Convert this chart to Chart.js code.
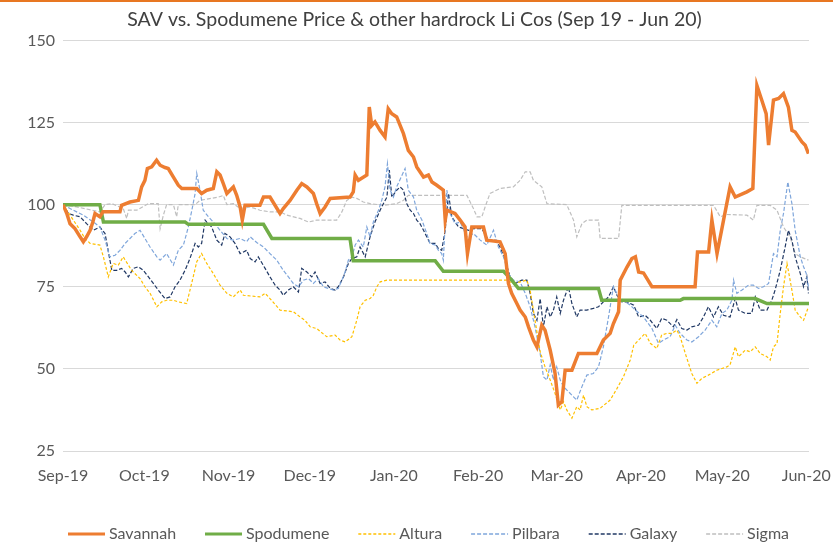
<!DOCTYPE html>
<html>
<head>
<meta charset="utf-8">
<title>SAV vs. Spodumene Price</title>
<script src="https://cdn.jsdelivr.net/npm/chart.js@4.4.1/dist/chart.umd.min.js"></script>
<style>
  body { margin: 0; background: #fff; }
  #wrap { position: relative; width: 833px; height: 546px; }
  #topline { position: absolute; left: 0; top: 0; width: 833px; height: 2px; background: #e87722; }
</style>
</head>
<body>
<div id="wrap">
  <canvas id="liChart" width="833" height="546"></canvas>
  <div id="topline"></div>
</div>
<script>
// ========== DATA (x = days since 1 Sep 2019, y = rebased to 100) ==========

const monthLabels = ['Sep-19', 'Oct-19', 'Nov-19', 'Dec-19', 'Jan-20', 'Feb-20', 'Mar-20', 'Apr-20', 'May-20', 'Jun-20'];
const monthDays = [0, 30, 61, 91, 122, 153, 182, 213, 243, 274];
const yTicks = [25, 50, 75, 100, 125, 150];

const savannah = [
    [0, 100], [1.4, 97.3], [2.6, 94.2], [4.4, 92.7], [6.3, 90.2], [7.5, 88.7], [8.7, 90.2], [10, 92.2],
    [11, 94.7], [11.8, 97.3], [13.6, 96.3], [14.7, 97.8], [21, 97.8], [21.6, 99.8], [24.7, 100.8], [27.8, 101.3],
    [29, 105.4], [30.2, 107.4], [31.1, 111], [32.7, 111.5], [34.5, 113.5], [35.8, 112], [37.6, 111.3], [38.8, 111],
    [40.7, 108.4], [42.5, 105.9], [43.8, 104.9], [49.3, 104.9], [51.1, 103.4], [53, 104.4], [55.4, 104.9], [56.7, 110],
    [57.9, 109], [59.1, 106.4], [60.4, 103.4], [61.6, 104.4], [62.8, 105.4], [64, 102.9], [65.3, 99.3], [66.1, 95.3],
    [67.1, 99.8], [72.6, 99.8], [73.9, 102.3], [76.3, 102.3], [80, 97.3], [81.2, 98.8], [83.7, 101.3], [86.2, 104.4],
    [88, 106.4], [89.9, 105.4], [92.3, 103.4], [93.5, 100.3], [94.8, 97.3], [96.6, 99.3], [98.5, 101.9], [105.8, 102.3],
    [107, 103.9], [107.7, 109], [108.9, 107.4], [112, 109], [112.9, 129.7], [113.8, 124.1], [115, 125.2], [116.9, 122.6],
    [118.7, 120.6], [119.9, 129.2], [121.2, 127.7], [123, 126.7], [125.5, 121.6], [127.3, 116.5], [129.2, 114.5], [130.4, 111.5],
    [132.9, 108.4], [134.7, 109], [136, 106.9], [137.8, 105.9], [140.2, 104.4], [140.9, 95.3], [141.5, 98.3], [144.5, 97.3],
    [146.4, 95.3], [148.2, 93.2], [149.1, 85.1], [150.7, 93.2], [155, 93.2], [156.2, 89.2], [161.1, 88.7], [163, 85.1],
    [164.2, 76], [165.4, 73], [167.3, 69.9], [168.5, 67.9], [170.4, 65.8], [171.6, 62.8], [173.4, 58.8], [174.7, 56.7],
    [176.5, 63.3], [177.7, 61.8], [179.6, 55.7], [181.4, 48.6], [182.6, 39], [183.9, 40], [185.1, 49.6], [187.6, 49.6],
    [190, 54.7], [196.8, 54.7], [199.2, 58.8], [201.7, 60.8], [202.9, 63.8], [204.8, 67.4], [205.4, 77], [207.9, 81],
    [209.7, 83.6], [211, 84.1], [212.2, 79.5], [214, 79.2], [217.1, 75], [233, 75], [233.9, 85.6], [238, 85.6],
    [239.2, 95.3], [241.1, 85.1], [243.5, 95.3], [245.9, 105.4], [247.8, 102.3], [252.1, 103.9], [254.3, 104.9], [255.8, 136.3],
    [257.6, 131.8], [259.2, 127.7], [260.1, 118.1], [261.9, 131.8], [263.8, 132.3], [265.6, 133.8], [267.4, 129.7], [268.7, 122.6],
    [269.9, 122.1], [272.4, 119.1], [273.6, 118.1], [274.8, 115.5]
];

const spodumene = [
    [0, 100], [13.6, 100], [14.9, 94.7], [45, 94.7], [46.2, 94], [73.9, 94], [77, 89.7], [105.8, 89.7],
    [107, 82.9], [137.2, 82.9], [140.2, 79.7], [162.4, 79.7], [165.4, 77], [167.9, 74.5], [197.4, 74.5], [198.6, 70.9],
    [227.5, 70.9], [228.7, 71.4], [255.2, 71.4], [259.5, 69.9], [275, 69.9]
];

const altura = [
    [0, 100], [2.6, 96.8], [6.3, 92.2], [8.1, 89.7], [10, 88.2], [13.6, 87.7], [14.9, 84.1], [16.7, 78],
    [18.5, 82.1], [20.4, 81.6], [22.2, 84.1], [25.3, 80], [28.4, 77.5], [30.2, 75], [32.1, 73], [34.6, 68.9],
    [36.4, 70.4], [38.2, 70.9], [40.7, 70.9], [42.5, 70.4], [45.6, 69.9], [48, 78], [49.3, 82.6], [51.1, 85.1],
    [53, 82.1], [55.4, 79], [57.9, 75.5], [60.4, 73], [62.8, 71.9], [65.3, 74], [66.5, 72.4], [72.6, 71.9],
    [74.5, 73], [76.3, 71.4], [80, 67.9], [84.9, 67.4], [87.4, 65.8], [89.2, 64.8], [91.1, 62.8], [93.5, 62.3],
    [97.2, 59.8], [100.3, 60.3], [102.1, 58.8], [104, 58.2], [106.5, 59.8], [108.3, 64.8], [109.5, 68.9], [111.4, 70.9],
    [113.2, 71.4], [114.4, 72.4], [115.7, 75], [116.9, 76.5], [119.4, 77], [163.6, 77], [166, 76], [168.5, 76.5],
    [171, 77], [172.2, 74], [174, 64.8], [175.9, 55.2], [177.7, 50.6], [179.6, 46.6], [181.4, 42.5], [183.3, 37.5],
    [184.5, 40], [185.7, 37.5], [187.6, 35], [189.4, 38.5], [190.6, 37.5], [191.9, 42], [193.1, 38.5], [194.9, 37.5],
    [198, 38], [201.7, 40.5], [204.2, 44], [206.6, 47.6], [209.1, 52.7], [210.4, 57.2], [212.8, 59.3], [214.6, 60.8],
    [216.5, 57.8], [218.9, 56.2], [220.7, 60.3], [222.6, 60.8], [224.4, 60.8], [226.3, 61.8], [227.5, 59.8], [229.4, 54.7],
    [231.8, 48.6], [233.7, 45.6], [235.5, 47.1], [237.9, 48.1], [241, 49.6], [244.7, 50.6], [245.9, 51.2], [247.8, 56.7],
    [249, 53.7], [251.5, 55.7], [253.3, 55.2], [255.2, 56.7], [257, 54.7], [259.5, 53.7], [260.7, 52.7], [261.9, 56.7],
    [263.2, 57.7], [264.4, 66.9], [265.6, 75], [266.9, 82.1], [268.7, 74], [269.9, 67.9], [271.8, 65.8], [273, 64.8],
    [274.8, 68.9]
];

const pilbara = [
    [0, 100], [2.6, 98.8], [7.5, 96.8], [11.2, 94.7], [13.6, 93.2], [15.5, 89.2], [17.3, 84.1], [19.2, 84.6],
    [21, 86.1], [22.9, 88.2], [24.7, 89.7], [26.5, 91.2], [28.4, 92.2], [30.2, 89.7], [32.1, 87.1], [34.6, 84.1],
    [35.8, 83.1], [38.2, 85.1], [40.7, 81.6], [42.5, 86.1], [44.4, 87.7], [46.2, 93.2], [47.5, 98.3], [48.7, 103.4],
    [49.3, 109.5], [50.5, 104.4], [51.7, 98.3], [53.6, 96.3], [55.4, 94.7], [57.9, 92.2], [60.4, 89.7], [62.8, 89.2],
    [65.3, 89.7], [67.7, 88.7], [69, 90.2], [71.4, 88.5], [73.9, 87.1], [76.3, 85.1], [78.8, 83.1], [81.2, 80],
    [83.1, 78], [84.9, 76], [86.8, 75], [88.6, 77], [90.5, 77.5], [92.3, 76], [94.1, 77.5], [96, 75],
    [97.8, 74.5], [99.7, 74], [101.5, 74.5], [102.8, 77], [104, 79.5], [105.2, 83.1], [106.5, 84.1], [107.7, 87.7],
    [108.9, 89.2], [110.7, 87.1], [112, 93.2], [113.2, 90.2], [114.4, 94.7], [116.3, 98.3], [117.5, 101.3], [118.7, 105.4],
    [119.6, 112.5], [120.6, 104.4], [121.8, 102.3], [123, 105.4], [126.1, 111], [127.3, 104.4], [129.2, 102.3], [130.4, 98.3],
    [132.3, 95.3], [134.1, 91.2], [135.3, 88.2], [137.2, 87.7], [138.4, 86.1], [139.6, 85.1], [140.2, 83.1], [141.5, 104.4],
    [142.7, 97.3], [144.5, 94.2], [146.4, 94.7], [148.9, 90.2], [151.3, 91.2], [153.8, 89.2], [156.2, 87.7], [158.7, 92.2],
    [160.5, 87.1], [162.4, 84.1], [164.2, 79], [166, 77], [168.5, 76.5], [170.4, 73], [172.2, 68.9], [174, 62.8],
    [175.9, 54.7], [177.1, 47.6], [178.4, 46.6], [179.6, 51.2], [180.8, 46.6], [182, 50.6], [183.3, 46.6], [184.5, 44.6],
    [188.2, 41.5], [189.4, 40.5], [191.3, 44.6], [193.1, 48.1], [195.5, 48.6], [197.4, 50.6], [199.2, 56.7], [201.1, 65.8],
    [202.9, 75], [204.8, 71.9], [206.6, 70.9], [209.1, 69.4], [211, 67.9], [214, 65.8], [217.1, 62.3], [219.5, 57.8],
    [221.4, 58.8], [223.8, 59.8], [225.7, 63.3], [227.5, 60.8], [230, 58.8], [231.8, 58.2], [234.3, 59.8], [236.7, 61.8],
    [239.2, 64.8], [241, 62.8], [242.9, 66.9], [244.7, 67.9], [246.6, 70.9], [247.2, 77], [248.4, 73], [250.3, 74],
    [252.7, 75.5], [254.5, 75.5], [256.4, 74.5], [258.2, 75], [260.1, 76], [261.9, 85.1], [263.2, 84.1], [264.4, 92.2],
    [265.6, 97.3], [267.2, 106.9], [268.7, 100.3], [269.9, 92.2], [271.8, 84.1], [273, 81.1], [274, 79], [274.8, 75]
];

const galaxy = [
    [0, 100], [2, 97.3], [3.8, 96.8], [6.3, 96.3], [8.7, 94.2], [11.2, 92.2], [13.6, 93.2], [15.5, 91.2],
    [17.3, 83.1], [18, 80], [19.8, 80], [21.6, 80.6], [22.9, 79.5], [24.1, 78], [25.9, 80.6], [27.8, 81.1],
    [29.6, 80], [31.5, 78], [33.3, 76], [35.1, 74], [37.6, 71.4], [39.5, 71.9], [41.3, 75], [43.1, 77],
    [45, 80], [46.8, 83.6], [48.7, 88.2], [49.9, 87.1], [51.1, 88.2], [52.4, 95.3], [53, 94.7], [54.8, 93.2],
    [56.7, 89.2], [58.5, 87.7], [59.7, 91.2], [61.6, 90.2], [63.4, 88.2], [65.3, 85.1], [67.7, 86.1], [69, 83.6],
    [70.8, 82.6], [72, 84.1], [74.5, 80.6], [76.3, 78], [78.2, 75.5], [80, 74], [81.2, 72.4], [83.1, 74],
    [84.9, 75], [86.8, 73.4], [88, 80.6], [89.9, 79.5], [91.7, 78], [92.9, 79.5], [94.8, 76], [96.6, 76.5],
    [98.5, 74.5], [100.3, 74], [101.5, 75], [103.4, 78], [105.2, 82.1], [106.5, 83.6], [108.3, 84.1], [109.5, 87.1],
    [111.4, 84.1], [113.2, 90.2], [115, 94.7], [116.9, 98.3], [118.1, 100.3], [119.4, 102.3], [120.3, 110.5], [121.2, 102.3],
    [123, 104.4], [124.3, 105.4], [125.5, 104.4], [126.7, 100.3], [128, 98.3], [129.2, 97.3], [130.4, 95.3], [131.6, 94.2],
    [132.9, 92.2], [134.1, 90.2], [135.3, 88.2], [137.2, 88.2], [138.4, 86.6], [139.6, 86.1], [140.9, 92.2], [142.1, 103.4],
    [143.3, 96.3], [145.8, 93.2], [149.5, 92.2], [151.3, 92.7], [154.4, 92.7], [156.8, 89.2], [159.3, 89.2], [161.1, 87.1],
    [163, 83.1], [164.8, 78], [166.7, 76], [169.1, 77], [171, 77], [172.2, 73], [173.4, 66.9], [174.7, 64.8],
    [175.9, 71.4], [177.1, 62.8], [178.4, 68.9], [179.6, 65.8], [180.8, 67.9], [182, 71.9], [183.3, 66.9], [184.5, 70.9],
    [186.3, 75], [187.6, 69.9], [189.4, 65.8], [190.6, 67.9], [193.1, 67.9], [195.5, 68.4], [197.4, 68.9], [199.2, 70.4],
    [201.1, 71.9], [202.9, 75], [204.2, 72.4], [206, 70.4], [207.9, 70.4], [210.4, 69.4], [212.2, 65.8], [214.6, 66.3],
    [216.5, 64.8], [218.9, 62.3], [220.7, 65.4], [222.6, 64.8], [225, 62.8], [226.3, 65], [228.1, 62.3], [230, 61.8],
    [231.8, 62.8], [234.3, 63.3], [236.1, 65.8], [237.9, 68.9], [239.8, 65.8], [241.6, 68.9], [243.5, 66.3], [245.9, 65.8],
    [247.8, 71.4], [249, 67.9], [251.5, 66.9], [253.9, 66.9], [255.2, 71.9], [257, 67.9], [259.5, 67.9], [261.3, 70.9],
    [262.5, 74], [264.4, 80], [266.2, 87.1], [267.4, 92.2], [268.7, 89.2], [269.9, 84.1], [271.8, 79], [273, 75],
    [274.2, 78], [274.8, 73]
];

const sigma = [
    [0, 100], [5.1, 99.3], [13.6, 97.8], [15.5, 100], [18, 100.3], [22.2, 98.8], [23.5, 95.8], [24.1, 98.3],
    [27.2, 98.3], [31.5, 100.3], [35.1, 100.3], [35.8, 92.7], [37, 96.8], [38.2, 100], [40.7, 100], [41.9, 96.3],
    [42.5, 100], [48.7, 100], [50.5, 101.3], [57.3, 102.3], [59.1, 102.8], [60.4, 100], [62.8, 100.3], [65.3, 98.8],
    [69, 99.3], [72.6, 98.3], [76.3, 97.8], [80, 97.8], [82.5, 96.8], [87.4, 95.8], [90.5, 94.7], [93.5, 95.3],
    [100.9, 95.3], [102.8, 97.8], [104.6, 101.3], [106.5, 102.3], [108.3, 101.9], [110.7, 100.8], [113.2, 100.3], [118.1, 99.8],
    [123, 100.3], [125.5, 101.3], [127.3, 102.8], [148.9, 102.8], [151.3, 98.8], [152.6, 96.3], [154.4, 96.3], [155.6, 99.3],
    [157.4, 103.4], [161.1, 104.9], [166, 105.4], [168.5, 107.4], [170.4, 110], [172.2, 110], [173.4, 107.4], [176.5, 105.4],
    [178.4, 100.3], [185.7, 100], [188.2, 95.3], [189.4, 90.2], [191.3, 94.2], [193.1, 95.3], [197.4, 95.3], [198, 89.7],
    [204.8, 89.7], [206, 99.8], [239.8, 99.8], [242.3, 96.3], [244.7, 97], [252.1, 96.8], [254.5, 95.3], [255.8, 99.8],
    [260.7, 99.8], [263.2, 98.3], [265.6, 93.2], [268, 90.2], [269.9, 85.1], [271.8, 84.1], [274.8, 83.1]
];


// ========== HELPERS ==========

function toPoints(pairs) {
    return pairs.map(p => ({ x: p[0], y: p[1] }));
}

function lineSet(label, pairs, color, width, dash, legendWidth) {
    return {
        label: label,
        data: toPoints(pairs),
        borderColor: color,
        backgroundColor: color,
        borderWidth: width,
        borderDash: dash,
        legendWidth: legendWidth,
        pointRadius: 0,
        tension: 0,
        fill: false
    };
}

const fontFamily = 'Lato, "Open Sans", sans-serif';
const textGrey = '#595959';


// ========== LEGEND (drawn under the axis, Excel style) ==========

const lineLegend = {
    id: 'lineLegend',
    afterDraw(chart) {
        const c = chart.ctx;
        const sets = chart.data.datasets;
        const sampleLen = 37;
        const textGap = 4;
        const left = 68;
        const right = 789;
        const y = 534;

        c.save();
        c.font = '16px ' + fontFamily;
        const widths = sets.map(ds => sampleLen + textGap + c.measureText(ds.label).width);
        const used = widths.reduce((a, b) => a + b, 0);
        const gap = (right - left - used) / (sets.length - 1);

        let x = left;
        sets.forEach((ds, i) => {
            c.beginPath();
            c.setLineDash(ds.borderDash);
            c.lineWidth = ds.legendWidth;
            c.strokeStyle = ds.borderColor;
            c.moveTo(x, y);
            c.lineTo(x + sampleLen, y);
            c.stroke();

            c.setLineDash([]);
            c.fillStyle = textGrey;
            c.textBaseline = 'middle';
            c.fillText(ds.label, x + sampleLen + textGap, y);
            x += widths[i] + gap;
        });
        c.restore();
    }
};


// ========== CHART ==========

const ctx = document.getElementById('liChart');

window.liChart = new Chart(ctx, {
    type: 'line',
    data: {
        datasets: [
            lineSet('Savannah', savannah, '#ed7d31', 3.5, [], 3),
            lineSet('Spodumene', spodumene, '#70ad47', 3.5, [], 3),
            lineSet('Altura', altura, '#ffc000', 1.2, [3, 2], 1.5),
            lineSet('Pilbara', pilbara, '#7fa6db', 1.2, [4, 2], 1.5),
            lineSet('Galaxy', galaxy, '#203864', 1.2, [4, 2], 1.5),
            lineSet('Sigma', sigma, '#bfbfbf', 1.2, [4, 2], 1.5)
        ]
    },
    plugins: [lineLegend],
    options: {
        responsive: false,
        animation: false,
        layout: { padding: { left: 20, right: 24, top: 0, bottom: 0 } },
        plugins: {
            title: {
                display: true,
                text: 'SAV vs. Spodumene Price & other hardrock Li Cos (Sep 19 - Jun 20)',
                color: '#404040',
                font: { family: fontFamily, size: 19.5, weight: 'normal' },
                padding: { top: 8, bottom: 9 }
            },
            legend: { display: false },
            tooltip: { enabled: false }
        },
        scales: {
            x: {
                type: 'linear',
                min: 0,
                max: 275,
                grid: { display: false },
                border: { display: false },
                afterBuildTicks: scale => {
                    scale.ticks = monthDays.map(v => ({ value: v }));
                },
                afterFit: scale => {
                    scale.height = 95;
                    scale.paddingLeft = 0;
                    scale.paddingRight = 0;
                },
                ticks: {
                    autoSkip: false,
                    maxRotation: 0,
                    padding: 7,
                    color: textGrey,
                    font: { family: fontFamily, size: 16 },
                    callback: value => monthLabels[monthDays.indexOf(value)]
                }
            },
            y: {
                min: 25,
                max: 150,
                afterBuildTicks: scale => {
                    scale.ticks = yTicks.map(v => ({ value: v }));
                },
                afterFit: scale => { scale.width = 43; },
                grid: { color: '#d9d9d9', lineWidth: 1, drawTicks: false },
                border: { display: false },
                ticks: {
                    padding: 8,
                    color: textGrey,
                    font: { family: fontFamily, size: 16 }
                }
            }
        }
    }
});
</script>
</body>
</html>
